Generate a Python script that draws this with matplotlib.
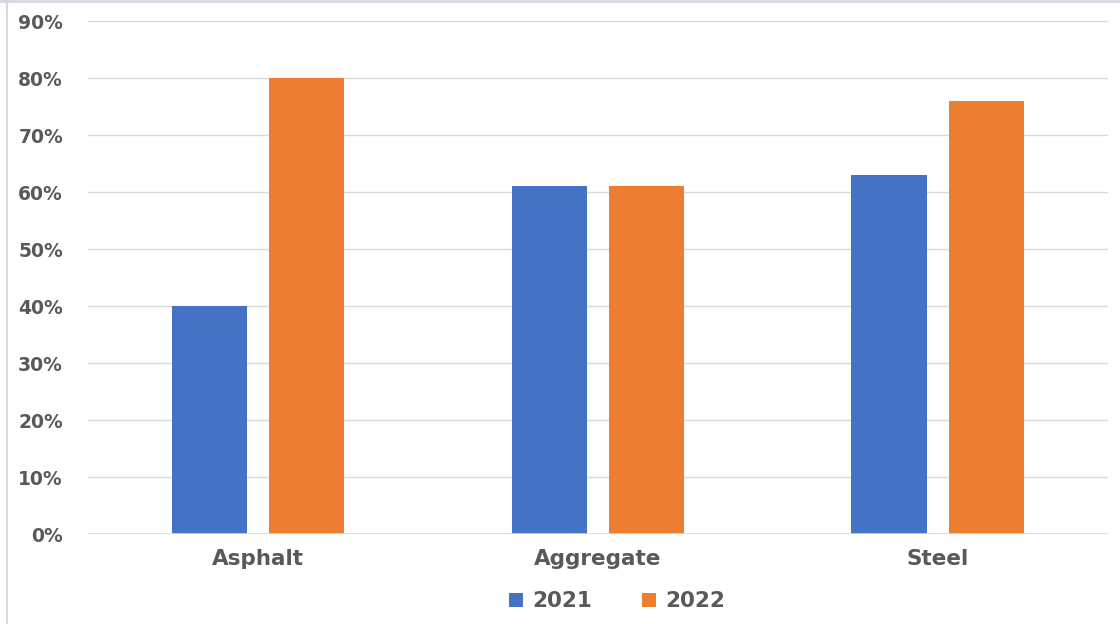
import numpy as np
import matplotlib.pyplot as plt
from matplotlib.lines import Line2D

categories = ["Asphalt", "Aggregate", "Steel"]
years = ["2021", "2022"]
vals_2021 = [40, 61, 63]
vals_2022 = [80, 61, 76]
yticks = [0, 10, 20, 30, 40, 50, 60, 70, 80, 90]

blue = "#4472C4"
orange = "#ED7D31"
grey = "#595959"

fig = plt.figure(figsize=(11.2, 6.24), dpi=100)
ax = fig.add_axes([0.0786, 0.1442, 0.9104, 0.8221])

x = np.arange(len(categories))
w = 0.222
off = 0.143
ax.bar(x - off, vals_2021, w, color=blue, label=years[0], zorder=3)
ax.bar(x + off, vals_2022, w, color=orange, label=years[1], zorder=3)

ax.set_xlim(-0.5, len(categories) - 0.5)
ax.set_ylim(0, 90)
ax.set_yticks(yticks)
ax.set_yticklabels([f"{t}%" for t in yticks], fontsize=13.5, fontweight="bold", color=grey)
ax.set_xticks(x)
ax.set_xticklabels(categories, fontsize=15.5, fontweight="bold", color=grey)
ax.tick_params(axis="both", length=0)
ax.tick_params(axis="y", pad=18)
ax.tick_params(axis="x", pad=11)
ax.grid(axis="y", color="#d9d9d9", linewidth=1, zorder=0)
for s in ax.spines.values():
    s.set_visible(False)
ax.axhline(0, color="#d9d9d9", linewidth=1.2, zorder=4)

ax.legend(loc="upper center", bbox_to_anchor=(0.519, -0.074), ncol=2, frameon=False,
          prop={"size": 15.5, "weight": "bold"}, labelcolor=grey, handlelength=0.65,
          handleheight=0.65, columnspacing=2.3, handletextpad=0.45)

# thin frame bits around the chart area
fig.add_artist(plt.Rectangle((0, 1 - 3 / 624), 1, 3 / 624, transform=fig.transFigure,
                             color="#d6dae3", lw=0))
fig.add_artist(Line2D([7 / 1120, 7 / 1120], [0, 1 - 3 / 624], transform=fig.transFigure,
                      color="#d9d9d9", lw=1.5))

fig.savefig("out.png", dpi=100)
